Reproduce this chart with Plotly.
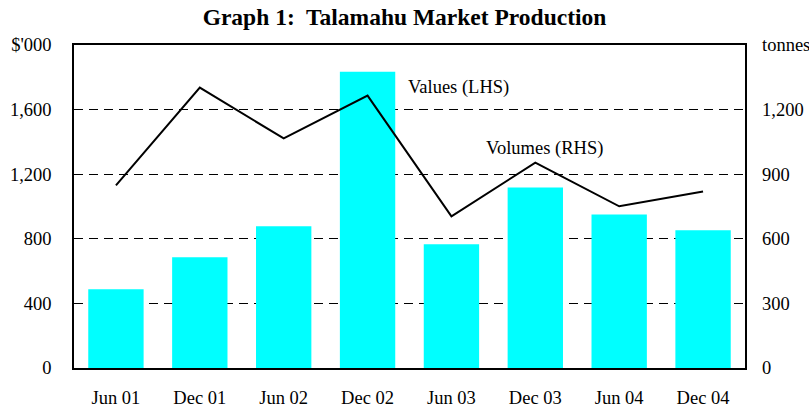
import plotly.graph_objects as go

categories = ["Jun 01", "Dec 01", "Jun 02", "Dec 02", "Jun 03", "Dec 03", "Jun 04", "Dec 04"]
values_lhs = [488, 686, 877, 1835, 766, 1118, 951, 853]      # $'000 (bars)
volumes_rhs = [848, 1302, 1066, 1265, 704, 954, 751, 820]    # tonnes (line)

left_ticks = [0, 400, 800, 1200, 1600, 2000]
left_text = ["0", "400", "800", "1,200", "1,600", "$'000"]
right_ticks = [0, 300, 600, 900, 1200, 1500]
right_text = ["0", "300", "600", "900", "1,200", "tonnes"]

FONT = "Liberation Serif"
FS = 18.5

fig = go.Figure()
fig.add_trace(go.Bar(x=categories, y=values_lhs, marker=dict(color="#00FFFF", line=dict(width=0)),
                     name="Values (LHS)", yaxis="y"))
fig.add_trace(go.Scatter(x=categories, y=volumes_rhs, mode="lines", line=dict(color="black", width=2),
                         name="Volumes (RHS)", yaxis="y2"))

fig.update_layout(
    width=809, height=407,
    margin=dict(l=74, r=64, t=45, b=39, autoexpand=False),
    paper_bgcolor="white", plot_bgcolor="white",
    showlegend=False,
    bargap=0.34,
    font=dict(family=FONT, size=FS, color="black"),
    title=dict(text="<b>Graph 1:\u00a0 Talamahu Market Production</b>", x=0.5, xanchor="center",
               y=0.958, yanchor="middle", font=dict(family=FONT, size=23.5, color="black")),
    xaxis=dict(showline=True, linecolor="black", linewidth=1.5, mirror=True, ticks="", automargin=False,
               showgrid=False, ticklabelstandoff=12, tickfont=dict(family=FONT, size=FS)),
    yaxis=dict(range=[0, 2000], tickvals=left_ticks, ticktext=left_text, automargin=False,
               showline=True, linecolor="black", linewidth=1.5, mirror=True,
               showgrid=True, gridcolor="black", gridwidth=1, griddash="9px,6px",
               zeroline=False, ticks="", ticklabelstandoff=17, tickfont=dict(family=FONT, size=FS)),
    yaxis2=dict(range=[0, 1500], tickvals=right_ticks, ticktext=right_text, overlaying="y", side="right",
                automargin=False, showgrid=False, zeroline=False, showline=False, ticks="",
                ticklabelstandoff=16, tickfont=dict(family=FONT, size=FS)),
    annotations=[
        dict(text="Values (LHS)", xref="paper", yref="paper", x=0.495, y=0.867,
             xanchor="left", yanchor="middle", showarrow=False, font=dict(family=FONT, size=FS)),
        dict(text="Volumes (RHS)", xref="paper", yref="paper", x=0.611, y=0.681,
             xanchor="left", yanchor="middle", showarrow=False, font=dict(family=FONT, size=FS)),
    ],
)

fig.write_html("out.html", config={"displayModeBar": False},
               post_script="document.body.style.margin='0';document.body.style.padding='0';")
